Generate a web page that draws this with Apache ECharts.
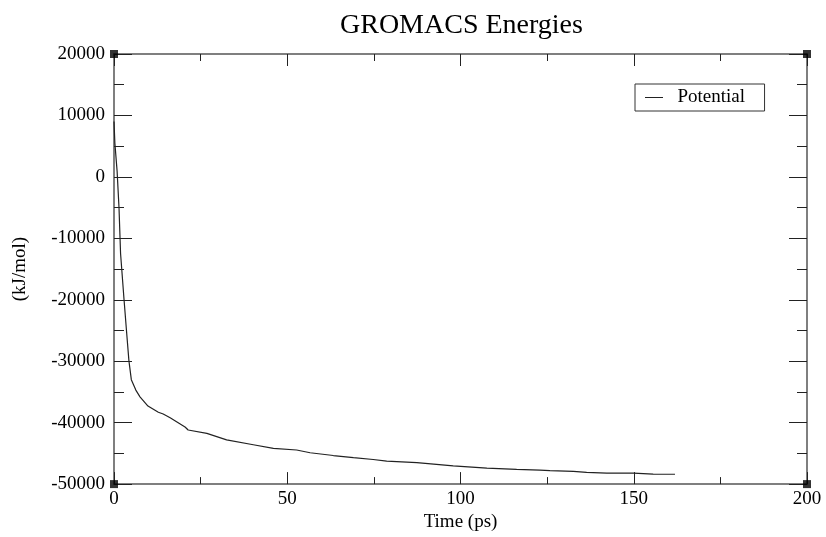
<!DOCTYPE html>
<html>
<head>
<meta charset="utf-8">
<script src="https://cdn.jsdelivr.net/npm/echarts@6/dist/echarts.min.js"></script>
<style>
  html, body { margin: 0; padding: 0; background: #fff; }
  #chart { width: 826px; height: 537px; }
</style>
</head>
<body>
<div id="chart"></div>
<script>
// time (ps) and potential energy (kJ/mol)
const timePs = [0, 0.25, 0.9, 1.45, 1.9, 2.9, 3.6, 4.3, 5.0, 6.3, 7.5, 9.8, 12.8, 14.2, 16.2,
  20.5, 21.4, 26.8, 32.5, 40.2, 46.0, 52.7, 56.6, 63.3, 69.1, 74.8, 78.7, 87.4, 97.9,
  107.6, 116.2, 122.9, 125.8, 132.6, 136.4, 142.2, 149.9, 155.6, 161.9];
const potential = [9000, 5500, 900, -5100, -12500, -20000, -25000, -29900, -33000, -34700,
  -35800, -37300, -38300, -38600, -39200, -40700, -41200, -41750, -42800, -43600, -44200,
  -44450, -44900, -45350, -45700, -46000, -46250, -46520, -47040, -47400, -47600, -47720,
  -47820, -47940, -48100, -48200, -48200, -48370, -48400];

const xRange = [0, 200];
const yRange = [-50000, 20000];
const cornerX = [0, 200, 0, 200];
const cornerY = [20000, 20000, -50000, -50000];

const serif = "Liberation Serif";
const chart = echarts.init(document.getElementById("chart"));

function frameAxis(pos, range, step, showLabels, major, minor) {
  return {
    type: "value",
    position: pos,
    min: range[0],
    max: range[1],
    interval: step,
    axisLine: { show: true, onZero: false, lineStyle: { color: "#555", width: 1.5 } },
    axisTick: { show: true, inside: true, length: major, lineStyle: { color: "#222", width: 1 } },
    minorTick: { show: true, splitNumber: 2, length: minor, lineStyle: { color: "#222", width: 1 } },
    splitLine: { show: false },
    axisLabel: {
      show: showLabels,
      color: "#000",
      fontFamily: serif,
      fontSize: 19,
      margin: pos === "left" ? 9 : 5,
      formatter: (v) => String(v),
    },
  };
}

const xBottom = frameAxis("bottom", xRange, 50, true, 12, 7);
xBottom.name = "Time (ps)";
xBottom.nameLocation = "middle";
xBottom.nameGap = 21;
xBottom.nameTextStyle = { color: "#000", fontFamily: serif, fontSize: 19 };

const yLeft = frameAxis("left", yRange, 10000, true, 18, 10);
yLeft.name = "(kJ/mol)";
yLeft.nameLocation = "middle";
yLeft.nameGap = 84;
yLeft.nameTextStyle = { color: "#000", fontFamily: serif, fontSize: 19 };

const option = {
  backgroundColor: "#fff",
  animation: false,
  title: {
    text: "GROMACS Energies",
    left: 335,
    top: 7,
    textStyle: { fontFamily: serif, fontSize: 28, fontWeight: "normal", color: "#000" },
  },
  legend: {
    left: 635,
    top: 84,
    padding: [4, 10, 4, 10],
    borderColor: "#333",
    borderWidth: 1,
    itemWidth: 18,
    itemHeight: 10,
    data: [{ name: "Potential", icon: "path://M0,4.5L18,4.5L18,5.5L0,5.5Z" }],
    formatter: (name) => "  " + name + "  ",
    textStyle: { fontFamily: serif, fontSize: 19, color: "#000" },
  },
  grid: { left: 114, right: 19, top: 54, bottom: 40 },
  xAxis: [xBottom, frameAxis("top", xRange, 50, false, 12, 7)],
  yAxis: [yLeft, frameAxis("right", yRange, 10000, false, 18, 10)],
  series: [
    {
      name: "Potential",
      type: "line",
      symbol: "none",
      lineStyle: { color: "#222", width: 1.2 },
      itemStyle: { color: "#222" },
      data: timePs.map((t, i) => [t, potential[i]]),
    },
    {
      name: "corners",
      type: "scatter",
      symbol: "rect",
      symbolSize: 8,
      silent: true,
      clip: false,
      itemStyle: { color: "#000" },
      data: cornerX.map((x, i) => [x, cornerY[i]]),
      z: 5,
    },
  ],
};
chart.setOption(option);
</script>
</body>
</html>
